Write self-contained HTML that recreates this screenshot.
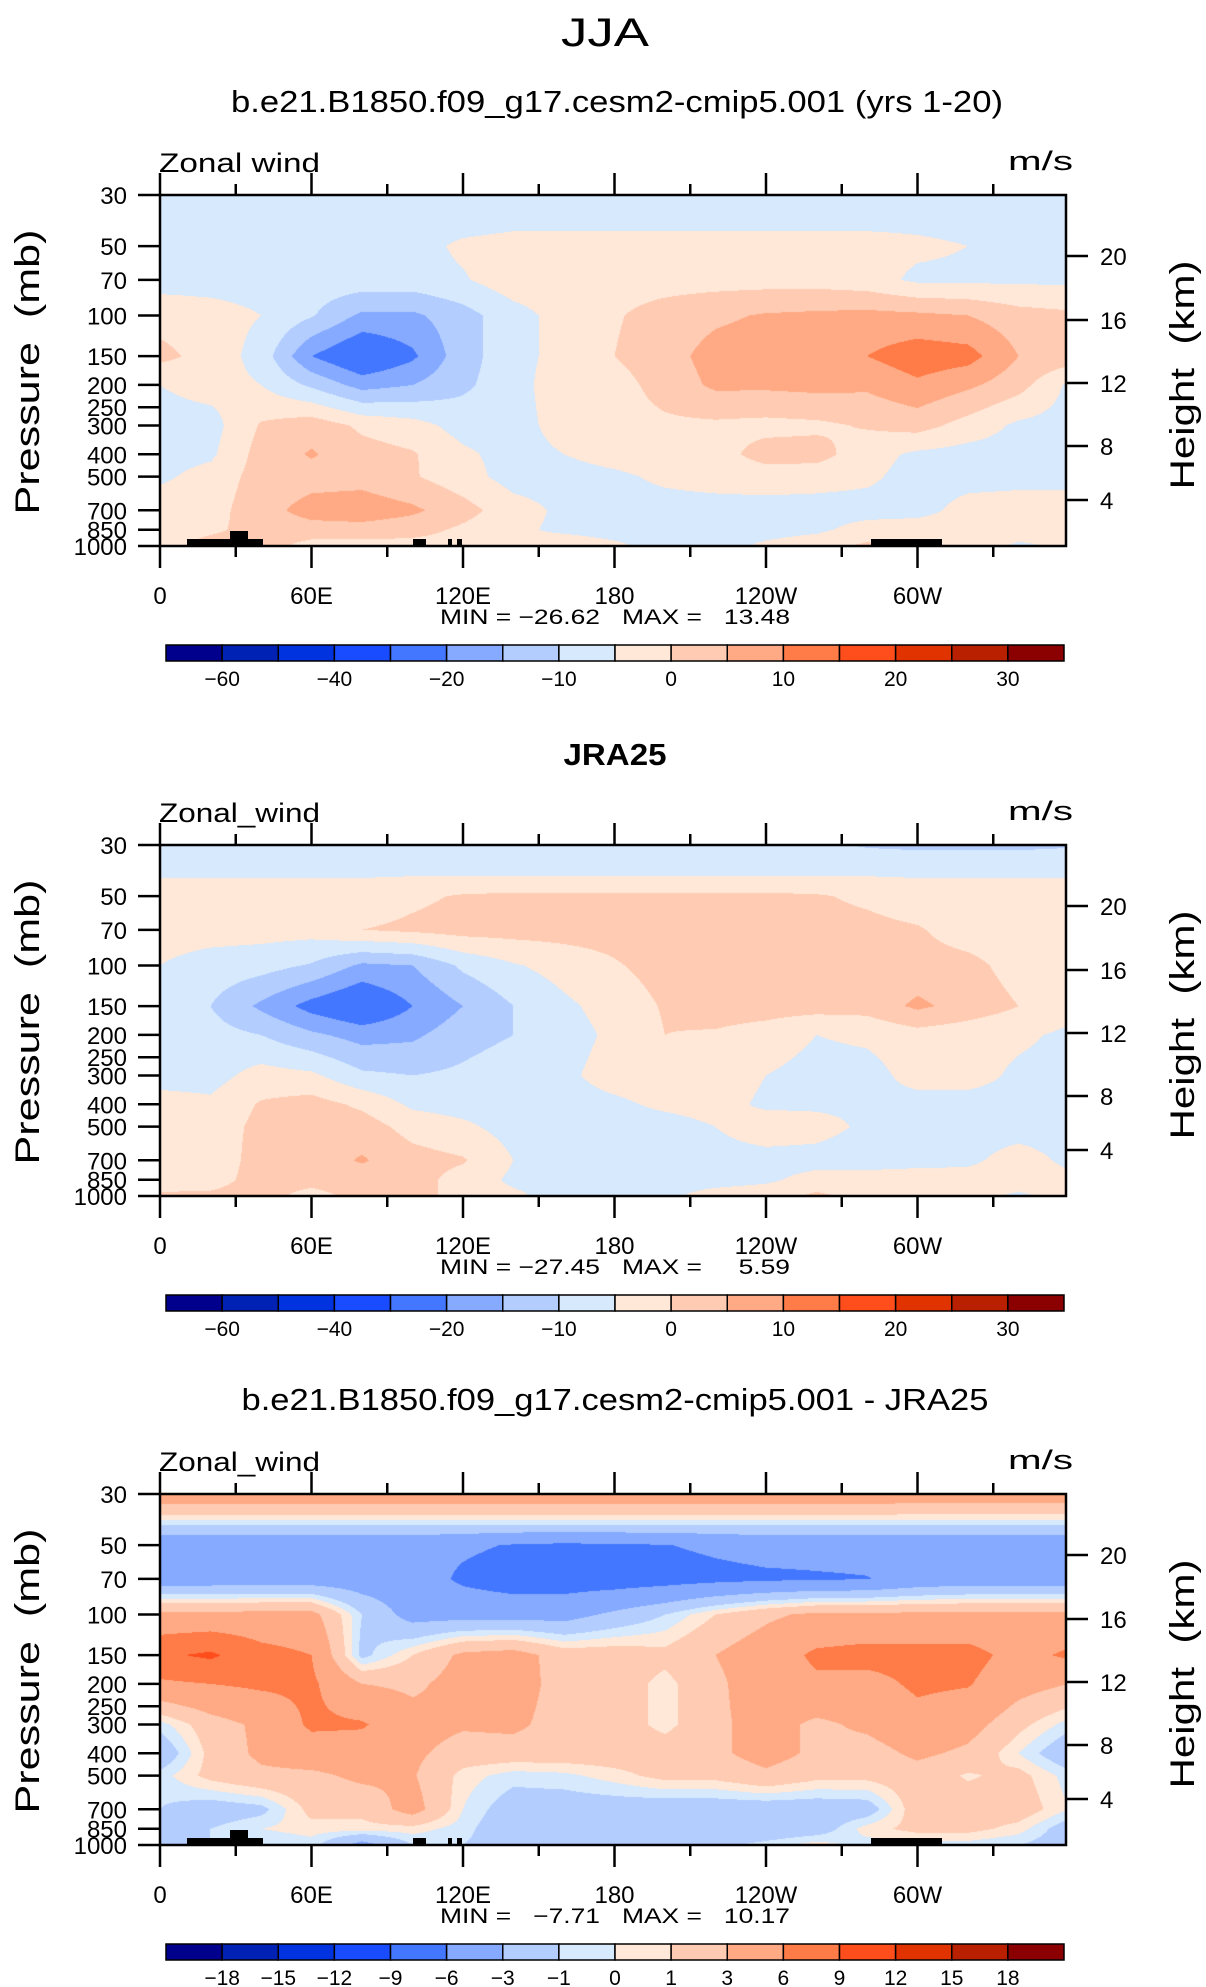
<!DOCTYPE html>
<html><head><meta charset="utf-8"><title>JJA Zonal wind</title>
<style>
html,body{margin:0;padding:0;background:#fff;}
#wrap{position:relative;width:1206px;height:1987px;overflow:hidden;background:#fff;}
canvas{position:absolute;}
svg{position:absolute;left:0;top:0;}
text{font-family:"Liberation Sans",sans-serif;fill:#000;white-space:pre;}
</style></head>
<body>
<div id="wrap">
<canvas id="c0" width="905" height="350" style="left:161px;top:196px"></canvas>
<canvas id="c1" width="905" height="350" style="left:161px;top:846px"></canvas>
<canvas id="c2" width="905" height="350" style="left:161px;top:1495px"></canvas>
<svg id="ov" width="1206" height="1987">
<text x="605" y="46" font-size="40" text-anchor="middle" textLength="88" lengthAdjust="spacingAndGlyphs">JJA</text>
<text x="617" y="112" font-size="31" text-anchor="middle" textLength="772" lengthAdjust="spacingAndGlyphs">b.e21.B1850.f09_g17.cesm2-cmip5.001 (yrs 1-20)</text>
<text x="615" y="765" font-size="31" font-weight="bold" text-anchor="middle" textLength="103" lengthAdjust="spacingAndGlyphs">JRA25</text>
<text x="615" y="1410" font-size="31" text-anchor="middle" textLength="747" lengthAdjust="spacingAndGlyphs">b.e21.B1850.f09_g17.cesm2-cmip5.001 - JRA25</text>
</svg>
</div>
<script>
// ---- data ----
const lons=[0,20,40,60,80,100,120,140,160,180,200,220,240,260,280,300,320,340,360];
const plevs=[30,40,50,70,100,150,200,300,400,500,700,850,1000];
const levelsAbs=[-60,-50,-40,-30,-20,-15,-10,-5,0,5,10,15,20,25,30];
const levelsDiff=[-18,-15,-12,-9,-6,-3,-1,0,1,3,6,9,12,15,18];
const colorbarLabelsAbs=["-60","","-40","","-20","","-10","","0","","10","","20","","30"];
const colorbarLabelsDiff=["-18","-15","-12","-9","-6","-3","-1","0","1","3","6","9","12","15","18"];
const palette=["#00008c","#0022b4","#0033e0","#1a4cff","#4477ff","#85aaff","#b3cdff","#d6e9fd","#ffe8d8","#ffcbb2","#ffaa84","#ff7b47","#ff4d1c","#e03300","#b82000","#8b0000"];
const xTickLons=[0,60,120,180,240,300];
const xTickLabels=["0","60E","120E","180","120W","60W"];
const yTickP=[30,50,70,100,150,200,250,300,400,500,700,850,1000];
const yTickLabels=["30","50","70","100","150","200","250","300","400","500","700","850","1000"];
const heightLabels=["20","16","12","8","4"];
const heightOffsets=[61,125,188,251,305];
const minMaxText=["MIN = \u221226.62   MAX =   13.48","MIN = \u221227.45   MAX =     5.59","MIN =   \u22127.71   MAX =   10.17"];
const varNames=["Zonal wind","Zonal_wind","Zonal_wind"];

const fieldModel=[
[-8,-8,-8,-8,-8,-8,-8,-8,-8,-8,-8,-8,-8,-8,-8,-8,-8,-8,-8],
[-7,-7,-7,-7,-7,-7,-6.8,-6,-6,-6,-6,-6,-6,-6,-6,-6,-6.5,-6.5,-7],
[-7,-7,-7,-7,-7,-7,-4,-3,-3,-3,-3,-3,-3,-3,-3,-4,-5,-5,-5.5],
[-7,-7,-7,-7,-7,-7,-5.5,-2,-2,-2,-2,-2,-2,-2,-3,-6,-6,-6,-6],
[-2,-3,-5,-9.5,-16,-16,-12,-7,-3,-0.5,2,4,5.5,6,6.5,6,5,2,1],
[1.5,-2,-7,-20,-26,-21,-12,-7,-3,0,3,7,8,9,10,13,12,5,3],
[-5,-3,-5,-11,-17,-15,-11,-7,-2,-2,2,6,6,6.5,6,9,6,2,-6],
[-7,-7,0.5,3,-1,-3,-7,-7,-3,-2,-1,-1,-1.5,-1,0.5,2,-2,-6,-7],
[-7,-6,2,5.5,2,0.5,-4,-7,-5,-3,-2,-2,2,2,-3,-6,-7,-7,-7],
[-6,-3,2,3,3,0.5,-3,-7,-7,-6,-4,-3,-2.5,-3,-4,-7,-7,-7,-7],
[-2,-2,3,7,8,6,2,-3,-6,-7,-7,-7,-7,-7,-7,-7,-3,-2,-2],
[-2,-1,2,3,3,2,-1,-4,-6,-7,-7,-7,-7,-6,-3,-2,-2,-2,-3],
[-2,2,2.5,-2,-2,-2,-2,-4,-2,-4,-7,-7,-4,-2,1,-2,-2,-6,-4]
];
const fieldObs=[
[-10,-10,-10,-9,-9,-9,-9,-9,-9,-9,-9,-9,-9,-9,-10.5,-11,-11,-11,-10.5],
[-5.5,-5.5,-5.5,-5.5,-5.5,-5.5,-5.5,-5.5,-5.5,-5.5,-5.5,-5.5,-5.5,-5.5,-5.5,-5.5,-5.5,-5.5,-5.5],
[-3,-3,-3,-3,-3,-1,0.5,1,1,1,1,1,1,0.5,-1,-3,-3,-3,-3],
[-3,-3,-3,-3,0,1,2,2,2,2,2,2,2,2,1.5,0.5,-2.5,-3,-3],
[-5,-7,-8,-10.5,-16,-15,-9,-5.5,-3,-0.5,2,2,2,2,2,2,1.5,-2,-3],
[-7,-10,-16,-22,-26,-20,-15,-10,-6,-3,0.5,2,2,2,2,6,3,0,-3],
[-7,-8,-10,-14,-17,-16,-12,-10,-7,-4,0,-0.5,-2,-5,-4,-2,-3,-4,-6],
[-7,-7,-3,-4,-9,-10,-9,-7,-6,-3,-2,-2,-5,-7,-7,-3,-3,-6,-7],
[-3,-4,0.5,2,-1,-6,-7,-7,-7,-6,-4,-3,-6,-6,-6,-7,-7,-7,-7],
[-3,-3,1.5,2.5,2.5,-2,-4,-7,-7,-7,-7,-5,-2,-3,-6,-7,-7,-7,-7],
[-2,-3,2,2.5,5.5,2,0.5,-5,-7,-7,-7,-7,-7,-7,-8,-7,-6,-3,-6],
[-3,-2,2,2,2.5,2,-2,-6,-7,-7,-7,-7,-6,-3,-2,-2,-3,-2,-4],
[1,1,2,-2,2,2,-2,-4,-7,-7,-6,-3,-2,1,-2,-2,-3,-6,-3]
];
const fieldDiff=[
[5,5,5,5,5,5,5,5,5,5,5,5,5,5,5,4.5,4.5,4.5,4.5],
[-0.5,-0.5,-0.5,-0.5,-0.5,-0.5,-0.5,-0.5,-0.5,-0.5,-0.5,-0.5,-0.5,-0.5,-0.5,-0.5,-0.5,-0.5,-0.5],
[-5,-5,-5,-5,-5,-5,-5.5,-6.2,-6.5,-6.3,-6.1,-5.5,-5,-5,-5,-5,-5,-5,-5],
[-4.5,-4.5,-4.5,-4.5,-4.5,-4.5,-6.5,-7.5,-7.5,-7.5,-7.2,-6.8,-6.5,-6.3,-6.1,-5,-4.5,-4.5,-4.5],
[3.5,3.5,3.8,3.8,-1,-4,-4,-4,-4,-2.5,-1,1,2.5,3.5,3.5,3.5,3.5,3.5,3.5],
[8.5,9.5,7,6,-1.5,1,3.5,4,2,2,1.5,3,4.5,6.5,7,7,7,5,6.5],
[5.5,6,6.5,6.5,3,2.5,4,4.2,2,2,0.5,2.5,4.5,5.5,5,6.5,6.2,4,3],
[-0.5,2,3.5,6.5,6.3,4,3.3,3.5,2,2,0.5,2.5,4,2.5,3.5,5,4,1.5,-0.5],
[-2.5,1.5,3.5,4.5,4.5,3.5,2,2,2,2,2,2.5,4,2.5,2,3.5,2.5,0,-2.5],
[-0.5,1.5,2.5,2.5,3.5,3.2,0.5,-0.5,-0.3,0.5,1.5,1.5,2.5,1.5,1.5,2,0.8,1.5,-0.5],
[-1,-2,-1.5,1.5,1.5,4,0,-2,-2,-2,-2.2,-2.2,-2.2,-2.2,-2,2,2,2,0],
[-2,-1,0,0.5,0.5,0.5,-0.5,-2.5,-2.5,-2.5,-2.5,-2.5,-2.5,-2,0.5,1.5,1.5,0.5,-2],
[-1.5,-1,-1,-0.5,-4,-1,-1,-2,-2,-1.5,-1.5,-1.5,-0.5,0.5,-0.5,-0.5,-0.5,-1,-2]
];

// ---- geometry ----
const X0=160, XW=2.525; // px per degree
const PTOP=195, PH=351;
const panelOffsets=[0,650,1299];
function xLon(lon){return X0+lon*XW;}
function yP(p,oy){return PTOP+oy+PH*Math.log(p/30)/Math.log(1000/30);}
function hex(c){return [parseInt(c.substr(1,2),16),parseInt(c.substr(3,2),16),parseInt(c.substr(5,2),16)];}
const palRGB=palette.map(hex);

function drawField(canvasId,field,levels,oy){
  const cv=document.getElementById(canvasId);
  const ctx=cv.getContext('2d');
  const W=cv.width,H=cv.height;
  const img=ctx.createImageData(W,H);
  const rowY=plevs.map(p=>yP(p,oy));
  for(let j=0;j<H;j++){
    const py=PTOP+oy+1+j+0.5;
    let k=0; while(k<rowY.length-2 && py>rowY[k+1]) k++;
    let fy=(py-rowY[k])/(rowY[k+1]-rowY[k]); fy=Math.max(0,Math.min(1,fy));
    for(let i=0;i<W;i++){
      const lon=(161+i+0.5-X0)/XW;
      let c=Math.floor(lon/20); if(c>lons.length-2)c=lons.length-2; if(c<0)c=0;
      let fx=(lon-lons[c])/20; fx=Math.max(0,Math.min(1,fx));
      const a=field[k][c]*(1-fx)+field[k][c+1]*fx;
      const b=field[k+1][c]*(1-fx)+field[k+1][c+1]*fx;
      const v=a*(1-fy)+b*fy;
      let idx=0; while(idx<levels.length && v>=levels[idx]) idx++;
      const col=palRGB[idx];
      const o=(j*W+i)*4;
      img.data[o]=col[0];img.data[o+1]=col[1];img.data[o+2]=col[2];img.data[o+3]=255;
    }
  }
  ctx.putImageData(img,0,0);
}
drawField('c0',fieldModel,levelsAbs,panelOffsets[0]);
drawField('c1',fieldObs,levelsAbs,panelOffsets[1]);
drawField('c2',fieldDiff,levelsDiff,panelOffsets[2]);

// ---- chrome ----
const NS='http://www.w3.org/2000/svg';
const svg=document.getElementById('ov');
function mk(tag,attrs,txt){
  const e=document.createElementNS(NS,tag);
  for(const k in attrs) e.setAttribute(k,attrs[k]);
  if(txt!==undefined) e.textContent=txt;
  svg.appendChild(e);
  return e;
}
const topoBlocks=[[187,263,7],[230,248,15],[413,426,7],[448,452,7],[457,462,7],[871,942,7]];
[0,2].forEach(function(pi){
  const oy=panelOffsets[pi];
  topoBlocks.forEach(function(b){
    const r=mk('rect',{x:b[0],y:PTOP+oy+PH-b[2],width:b[1]-b[0],height:b[2],fill:'#000'});
    
    
  });
});

panelOffsets.forEach(function(oy,pi){
  const top=PTOP+oy, bot=PTOP+oy+PH;
  const fr=mk('rect',{x:X0,y:top,width:906,height:PH,fill:'none',stroke:'#000','stroke-width':2.5});
  
  
  for(let lon=0;lon<360;lon+=30){
    const major=(lon%60===0);
    const L=major?22:11;
    const t1=mk('line',{x1:xLon(lon),x2:xLon(lon),y1:top,y2:top-L,stroke:'#000','stroke-width':2.5});
    
    
    const t2=mk('line',{x1:xLon(lon),x2:xLon(lon),y1:bot,y2:bot+L,stroke:'#000','stroke-width':2.5});
    
    
  }
  xTickLons.forEach(function(lon,i){
    const t=mk('text',{x:xLon(lon),y:bot+58,'font-size':24,'text-anchor':'middle'},xTickLabels[i]);
    
    
  });
  yTickP.forEach(function(p,i){
    const y=yP(p,oy);
    const l=mk('line',{x1:138,x2:X0,y1:y,y2:y,stroke:'#000','stroke-width':2.5});
    
    
    const t=mk('text',{x:127,y:y+9,'font-size':24,'text-anchor':'end'},yTickLabels[i]);
    
    
  });
  heightOffsets.forEach(function(dy,i){
    const y=top+dy;
    const l=mk('line',{x1:1066,x2:1088,y1:y,y2:y,stroke:'#000','stroke-width':2.5});
    
    
    const t=mk('text',{x:1100,y:y+9,'font-size':24},heightLabels[i]);
    
    
  });
  const vn=mk('text',{x:159,y:top-23,'font-size':27,textLength:161,lengthAdjust:'spacingAndGlyphs'},varNames[pi]);
  
  
  const un=mk('text',{x:1008,y:top-25,'font-size':27,textLength:65,lengthAdjust:'spacingAndGlyphs'},'m/s');
  
  
  const yt=mk('text',{x:0,y:0,'font-size':34,'text-anchor':'middle',textLength:285,lengthAdjust:'spacingAndGlyphs',transform:'translate(39,'+(top+177)+') rotate(-90)'},'Pressure  (mb)');
  
  
  const ht=mk('text',{x:0,y:0,'font-size':34,'text-anchor':'middle',textLength:229,lengthAdjust:'spacingAndGlyphs',transform:'translate(1194,'+(top+180)+') rotate(-90)'},'Height  (km)');
  
  
  const mm=mk('text',{x:615,y:top+429,'font-size':21,'text-anchor':'middle',textLength:350,lengthAdjust:'spacingAndGlyphs'},minMaxText[pi]);
  
  
  const cbx=166, cbw=898/16, cby=top+450, cbh=16;
  const labs=(pi===2)?colorbarLabelsDiff:colorbarLabelsAbs;
  palette.forEach(function(c,i){
    const r=mk('rect',{x:cbx+i*cbw,y:cby,width:cbw,height:cbh,fill:c,stroke:'#000','stroke-width':1.5});
    
    
  });
  labs.forEach(function(s,i){
    if(!s) return;
    const t=mk('text',{x:cbx+(i+1)*cbw,y:cby+41,'font-size':21,'text-anchor':'middle'},s.replace('-','\u2212'));
    
    
  });
});
</script>
</body></html>
